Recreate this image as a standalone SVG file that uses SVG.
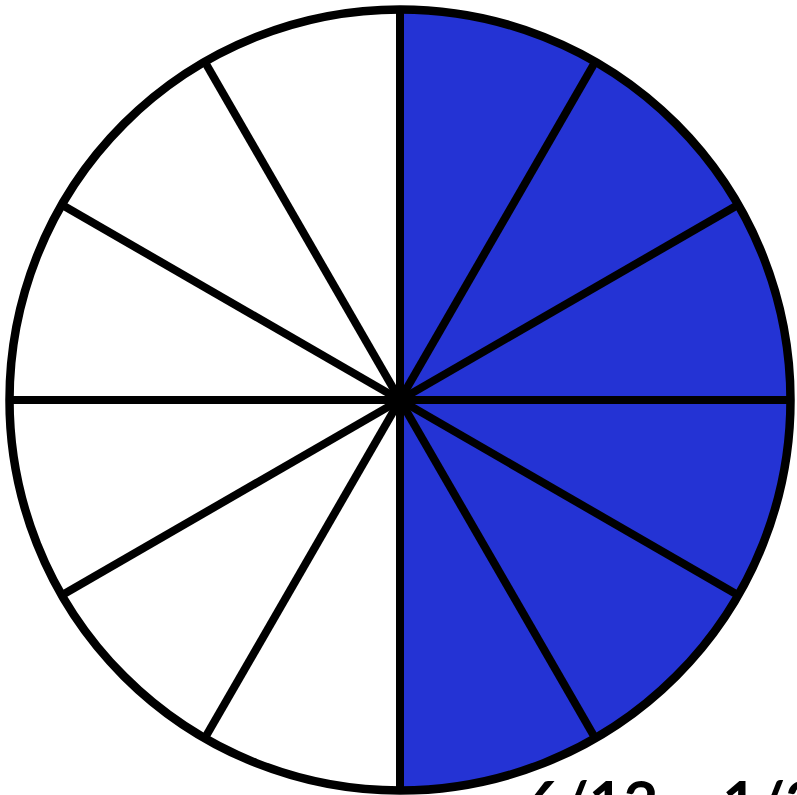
<svg xmlns="http://www.w3.org/2000/svg" width="797" height="795" viewBox="0 0 797 795">
<style>
.blue{fill:#2433d4}
.sp{stroke:#000;stroke-width:8;stroke-linecap:butt}
.lbl{font-family:"Lato","Noto Sans",sans-serif;font-size:60px;font-weight:700;fill:#000}
</style>
<rect width="797" height="795" fill="#fff"/>
<g id="shaded-half">
<path class="blue" d="M400,400 L400,9.5 A390.5,390.5 0 0 1 400,790.5 Z"/>
</g>
<g id="spokes" class="sp">
<line x1="400" y1="9.5" x2="400" y2="790.5"/>
<line x1="9.5" y1="400" x2="790.5" y2="400"/>
<line x1="204.75" y1="61.8" x2="595.25" y2="738.2"/>
<line x1="595.25" y1="61.8" x2="204.75" y2="738.2"/>
<line x1="61.8" y1="204.75" x2="738.2" y2="595.25"/>
<line x1="738.2" y1="204.75" x2="61.8" y2="595.25"/>
</g>
<g id="rim">
<circle cx="400" cy="400" r="390.5" fill="none" stroke="#000" stroke-width="8.5"/>
<circle cx="400" cy="400" r="9" fill="#000"/>
</g>
<g id="label">
<text class="lbl" x="526" y="823.5">6/12 = 1/2</text>
</g>
</svg>
